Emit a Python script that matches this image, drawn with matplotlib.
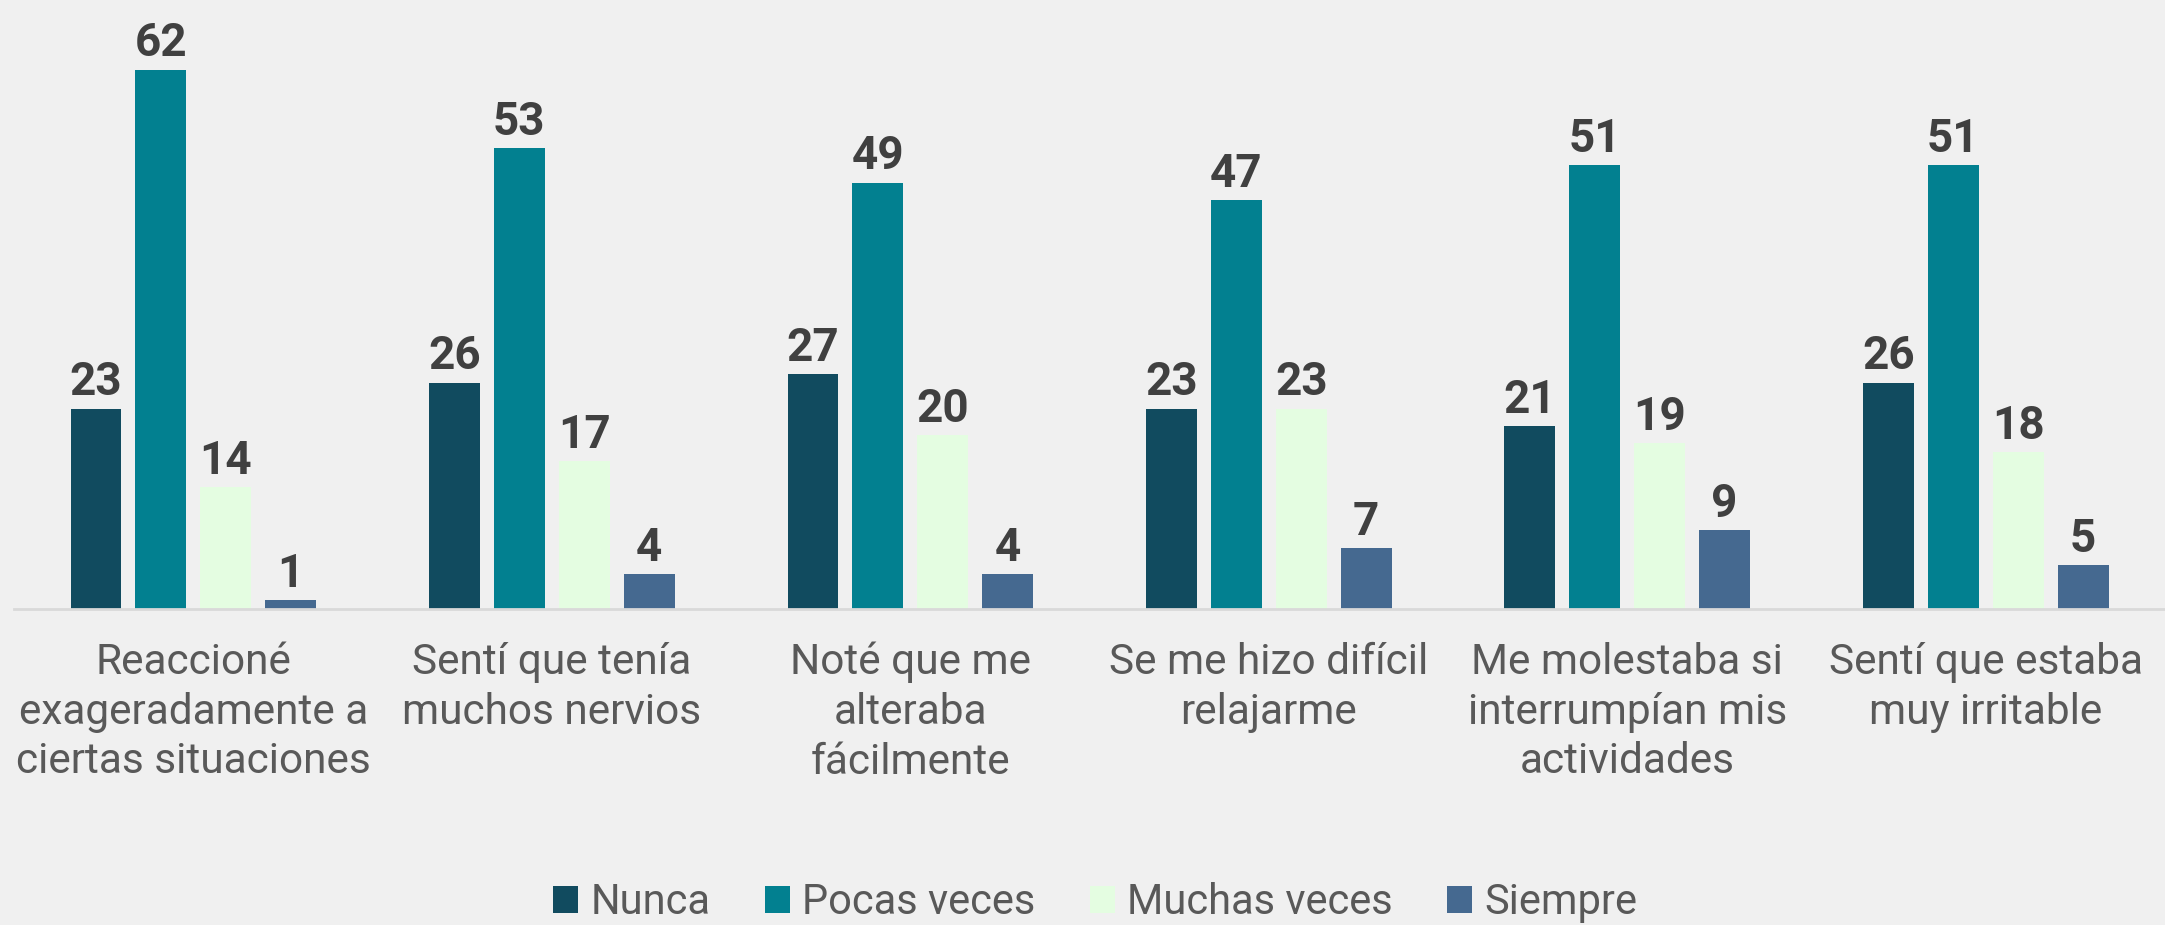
import numpy as np
import matplotlib.pyplot as plt

plt.rcParams['font.family'] = ['Roboto', 'DejaVu Sans']

categories = ['Reaccioné\nexageradamente a\nciertas situaciones',
              'Sentí que tenía\nmuchos nervios',
              'Noté que me\nalteraba\nfácilmente',
              'Se me hizo difícil\nrelajarme',
              'Me molestaba si\ninterrumpían mis\nactividades',
              'Sentí que estaba\nmuy irritable']
series = ['Nunca', 'Pocas veces', 'Muchas veces', 'Siempre']
nunca = [23, 26, 27, 23, 21, 26]
pocas = [62, 53, 49, 47, 51, 51]
muchas = [14, 17, 20, 23, 19, 18]
siempre = [1, 4, 4, 7, 9, 5]
colors = ['#114B5F', '#028090', '#E4FDE1', '#456990']

bg = '#F0F0F0'
fig = plt.figure(figsize=(21.65, 9.25), dpi=100, facecolor=bg)
ax = fig.add_axes([0.0065, 0.342, 0.9935, 0.658])
ax.set_facecolor(bg)

x = np.arange(len(categories))
w = 0.142
step = 0.181
for i, (vals, name) in enumerate(zip([nunca, pocas, muchas, siempre], series)):
    bars = ax.bar(x + (i - 1.5) * step, vals, w, color=colors[i], label=name)
    ax.bar_label(bars, padding=3, fontsize=33, fontweight='bold', color='#404040')

ax.set_xlim(-0.5, len(categories) - 0.5)
ax.set_ylim(0, 70)
ax.set_xticks(x)
ax.set_xticklabels(categories, fontsize=30.5, color='#595959', linespacing=1.27)
ax.tick_params(axis='x', length=0, pad=24)
ax.set_yticks([])
for s in ['top', 'left', 'right']:
    ax.spines[s].set_visible(False)
ax.spines['bottom'].set_color('#D9D9D9')
ax.spines['bottom'].set_linewidth(2)

fig.legend(loc='center', bbox_to_anchor=(0.506, 0.024), ncol=4, frameon=False,
           fontsize=30, labelcolor='#595959', handlelength=0.6, handleheight=0.6,
           handletextpad=0.3, columnspacing=1.3)

fig.savefig('out.png', facecolor=bg)
